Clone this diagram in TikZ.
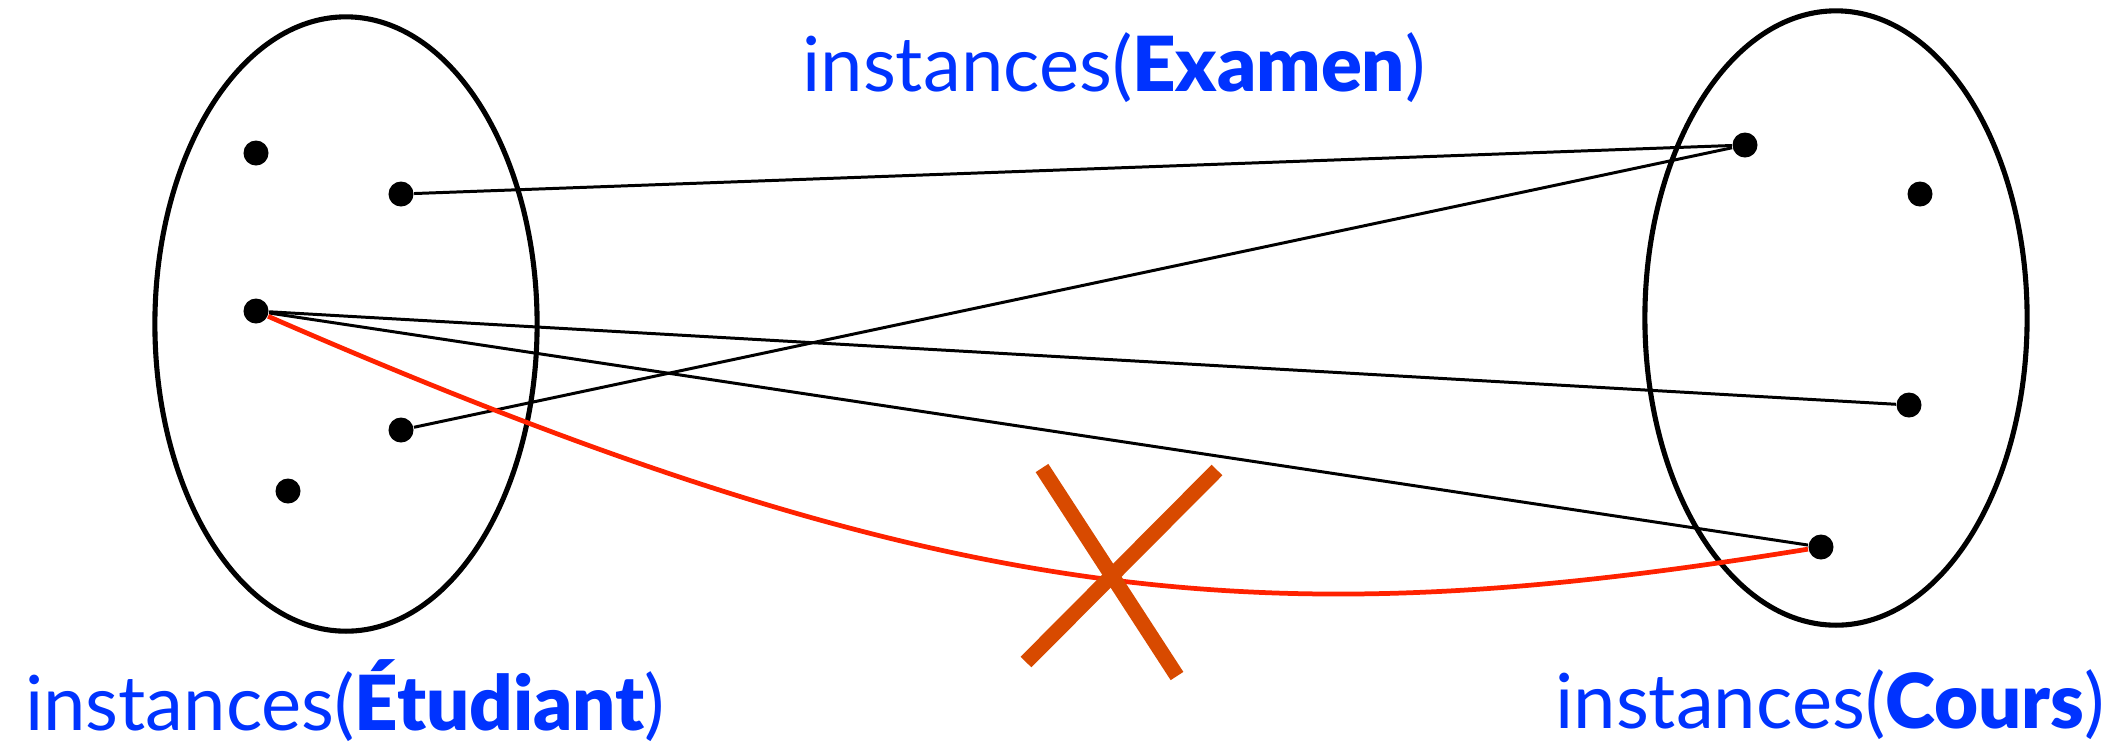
\documentclass[tikz,border=0pt]{standalone}
\usepackage{fontspec}
\setmainfont{Lato}[BoldFont={Lato Black}]
\usetikzlibrary{positioning,shapes.geometric}
\definecolor{lblblue}{RGB}{0,51,255}
\definecolor{badred}{RGB}{255,34,0}
\definecolor{crossorange}{RGB}{216,74,0}

\begin{document}
\begin{tikzpicture}[
            x=0.01cm, y=-0.01cm,
            set/.style={
                draw,
                ellipse,
                line width=1.45pt,
                minimum width=3.82cm,
                minimum height=6.14cm
            },
            elem/.style={circle, fill=black, inner sep=0pt, minimum size=0.25cm},
            link/.style={line width=0.85pt},
            badlink/.style={draw=badred, line width=1.35pt},
            nope/.style={draw=crossorange, line width=4.3pt},
            lbl/.style={
                text=lblblue,
                font=\fontsize{21.6}{26}\selectfont,
                inner sep=0pt,
                anchor=base
            }
        ]
        \useasboundingbox (0,0) rectangle (2118,747);

        \node[set] (etudiant) at (346,324) {};
        \node[set] (cours) at (1836,318) {};

        \node[elem] (e1) at (256,153) {};
        \node[elem] (e2) at (401,194) {};
        \node[elem] (e3) at (256,311) {};
        \node[elem] (e4) at (401,430) {};
        \node[elem] (e5) at (288,491) {};

        \node[elem] (c1) at (1745,145) {};
        \node[elem] (c2) at (1920,194) {};
        \node[elem] (c3) at (1909,405) {};
        \node[elem] (c4) at (1821,547) {};

        \node[lbl] (examenlbl) at (1114,91) {instances(\textbf{Examen})};
        \node[lbl] (etudiantlbl) at (345,730) {instances(\textbf{Étudiant})};
        \node[lbl] (courslbl) at (1830,728) {instances(\textbf{Cours})};

        \draw[link] (e2) -- (c1);
        \draw[link] (e4) -- (c1);
        \draw[link] (e3) -- (c3);
        \draw[link] (e3) -- (c4);
        \draw[badlink] (e3) .. controls (956,616) and (1272,636) .. (c4);

        % the crossed out link
        \draw[nope] (1042,468) -- (1177,676);
        \draw[nope] (1217,470) -- (1026,662);
        \end{tikzpicture}
\end{document}
